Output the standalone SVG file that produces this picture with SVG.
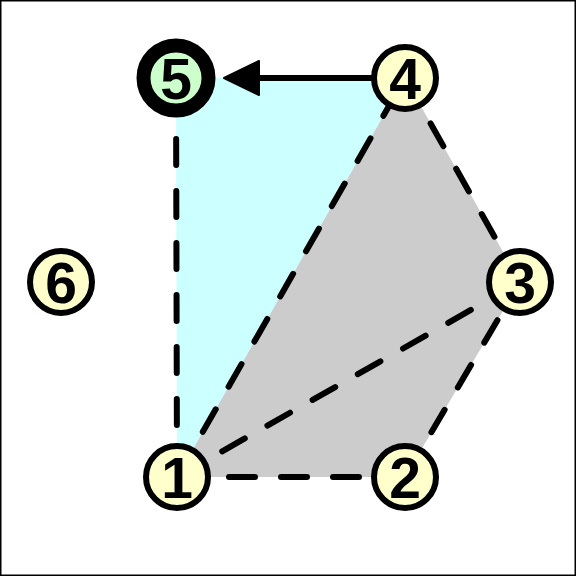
<svg xmlns="http://www.w3.org/2000/svg" width="576" height="576" viewBox="0 0 576 576">
<style>
.dash{stroke:#000;stroke-width:6;stroke-dasharray:26 26;stroke-linecap:round;fill:none}
.node circle{fill:#ffffcc;stroke:#000;stroke-width:6}
.node text{font-family:"Liberation Sans",Arial,sans-serif;font-weight:bold;font-size:57px;text-anchor:middle;fill:#000}
</style>
<defs>
<marker id="arr" viewBox="0 0 37 36" refX="25" refY="18" markerWidth="37" markerHeight="36" markerUnits="userSpaceOnUse" orient="auto">
<path d="M1,1 L36,18 L1,35 Z" fill="#000" stroke="#000" stroke-width="2" stroke-linejoin="round"/>
</marker>
</defs>
<rect x="0.75" y="0.75" width="574.5" height="574.5" fill="#fff" stroke="#000" stroke-width="1.5"/>
<g id="regions">
<polygon points="176,78 405,78 177,477" fill="#ccffff"/>
<polygon points="177,477 405,477 520,282 405,78" fill="#cccccc"/>
</g>
<g id="connectors">
<line class="dash" x1="177" y1="477" x2="176" y2="78"/>
<line class="dash" x1="177" y1="477" x2="405" y2="78"/>
<line class="dash" x1="177" y1="477" x2="520" y2="282"/>
<line class="dash" x1="177" y1="477" x2="405" y2="477"/>
<line class="dash" x1="405" y1="477" x2="520" y2="282"/>
<line class="dash" x1="520" y1="282" x2="405" y2="78"/>
<line x1="405" y1="78" x2="235" y2="78" stroke="#000" stroke-width="6" marker-end="url(#arr)"/>
</g>
<g id="n1" class="node"><circle cx="177" cy="477" r="31"/><text x="177" y="498">1</text></g>
<g id="n2" class="node"><circle cx="405" cy="477" r="31"/><text x="405" y="498">2</text></g>
<g id="n3" class="node"><circle cx="520" cy="282" r="31"/><text x="520" y="303">3</text></g>
<g id="n4" class="node"><circle cx="405" cy="78" r="31"/><text x="405" y="99">4</text></g>
<g id="n5" class="node"><circle cx="176" cy="78" r="32.5" style="fill:#ccffcc;stroke-width:14"/><text x="176" y="99">5</text></g>
<g id="n6" class="node"><circle cx="61" cy="282" r="31"/><text x="61" y="303">6</text></g>
</svg>
